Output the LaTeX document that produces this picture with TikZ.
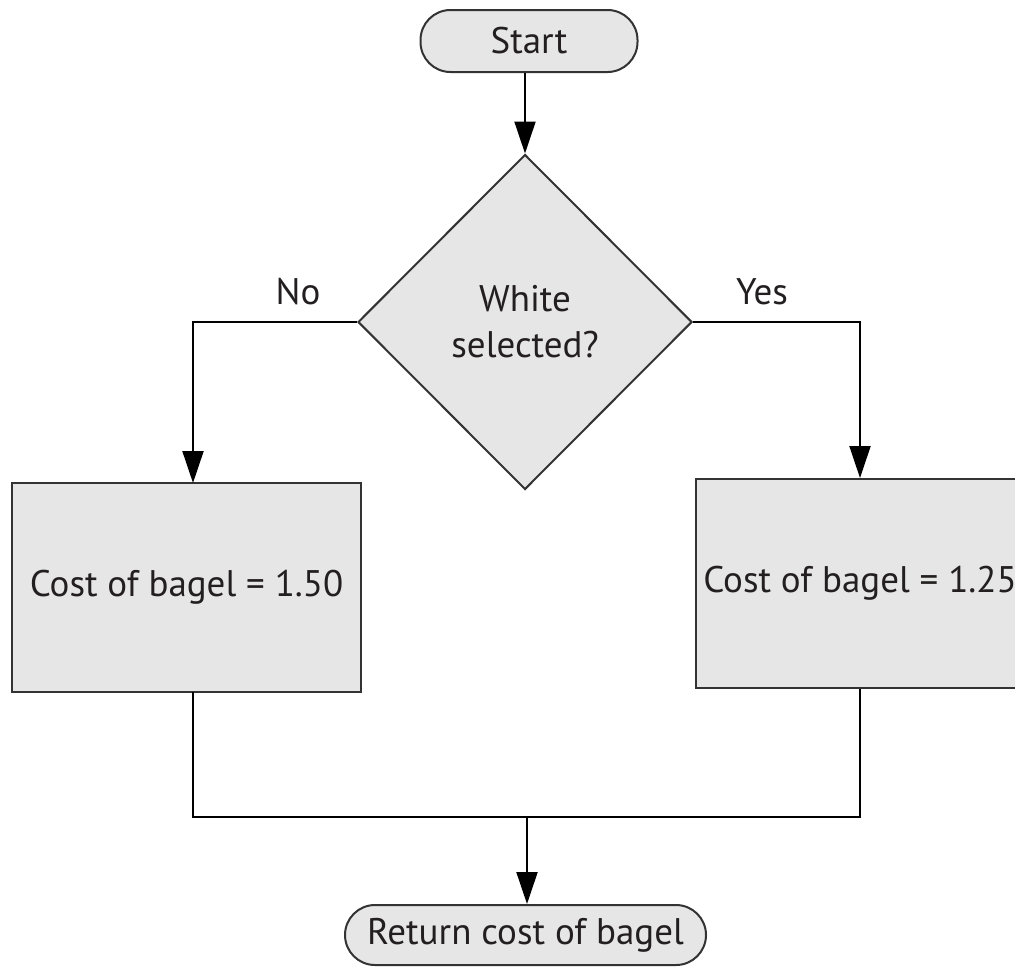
\documentclass[tikz,border=0pt]{standalone}
\usepackage{fontspec}
\setmainfont{PT Sans}
\usetikzlibrary{shapes.geometric,arrows.meta}
\definecolor{boxfill}{HTML}{E6E6E6}
\definecolor{edge}{HTML}{333333}
\definecolor{ink}{HTML}{231F20}
\begin{document}
\begin{tikzpicture}[x=0.5pt,y=-0.5pt,
  base/.style={draw=edge,line width=1pt,fill=boxfill,text=ink,font=\fontsize{18.5}{23}\selectfont,inner sep=0pt},
  term/.style={base,rounded corners=15pt},
  procbox/.style={base},
  decision/.style={base,diamond,aspect=1,align=center},
  conn/.style={draw=black,line width=1pt},
  arr/.style={conn,-{Triangle[length=16pt,width=10.5pt]}},
  lbl/.style={text=ink,font=\fontsize{18.5}{23}\selectfont}]
\useasboundingbox (0,0) rectangle (1015,969);
\clip (0,0) rectangle (1015,969);
\fill[white] (0,0) rectangle (1015,969);
\node[term,minimum width=108.5pt,minimum height=31pt] (start) at (529,41) {Start};
\node[decision,minimum width=167pt,minimum height=167.5pt] (dec) at (525,322) {White\\selected?};
\node[procbox,minimum width=174.5pt,minimum height=104.5pt] (left) at (186.5,587.5) {Cost of bagel = 1.50};
\node[procbox,minimum width=164pt,minimum height=104.5pt] (right) at (860,583.5) {Cost of bagel = 1.25};
\node[term,minimum width=180.5pt,minimum height=30pt] (ret) at (525.5,935) {Return cost of bagel};
\node[lbl] (no) at (298,292) {No};
\node[lbl] (yes) at (762,292) {Yes};
\coordinate (lin) at (193,483);
\coordinate (lout) at (193,692);
\coordinate (join) at (527,817);
\draw[arr] (start.south -| dec.north) -- (dec.north);
\draw[arr] (dec.west) -| (lin);
\draw[arr] (dec.east) -| (right.north);
\draw[conn] (lout) |- (join) -| (right.south);
\draw[arr] (join) -- (join |- ret.north);
\end{tikzpicture}
\end{document}
